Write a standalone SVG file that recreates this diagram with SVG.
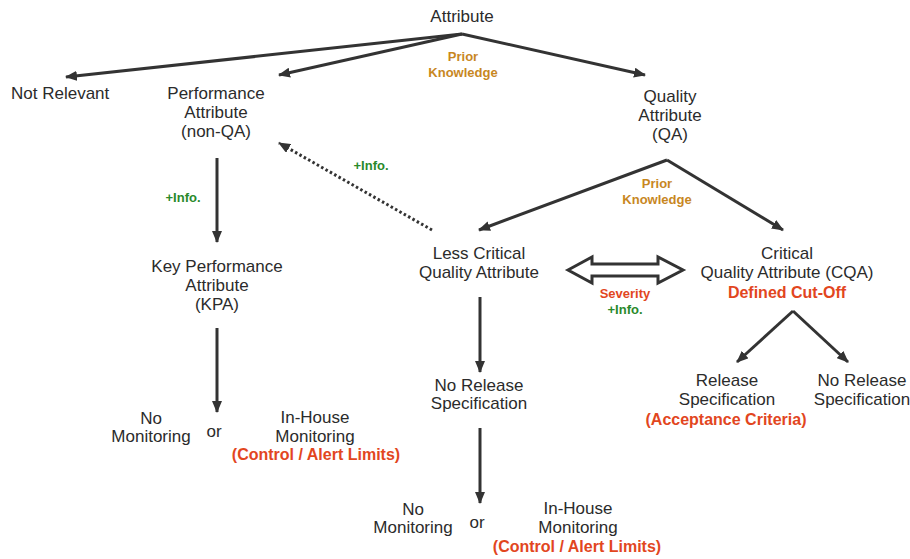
<svg xmlns="http://www.w3.org/2000/svg" width="910" height="559" viewBox="0 0 910 559">
<defs>
<marker id="ah" viewBox="0 0 12 10" refX="11" refY="5" markerWidth="12" markerHeight="10" markerUnits="userSpaceOnUse" orient="auto">
<path d="M0,0 L12,5 L0,10 z" fill="#333"/>
</marker>
</defs>
<style>
.t{font-family:"Liberation Sans",Arial,sans-serif;font-size:17px;fill:#2b2b2b;text-anchor:middle}
.l{font-family:"Liberation Sans",Arial,sans-serif;font-size:13px;font-weight:bold;text-anchor:middle}
.or{fill:#C8871F}
.gr{fill:#2A8A2A}
.rd{fill:#E2461E}
.t.rd{font-size:16px;font-weight:bold}
.c line{stroke:#333;stroke-width:3;marker-end:url(#ah)}
</style>
<rect width="910" height="559" fill="#fff"/>
<g class="c" id="connectors">
<line x1="462" y1="34" x2="66" y2="77"/>
<line x1="462" y1="34" x2="279" y2="75"/>
<line x1="462" y1="34" x2="645" y2="75"/>
<line x1="667" y1="160" x2="479" y2="230"/>
<line x1="667" y1="160" x2="783" y2="230"/>
<line x1="432" y1="230" x2="279" y2="143" stroke-dasharray="2.5 2.5"/>
<line x1="217" y1="158" x2="217" y2="242"/>
<line x1="217" y1="328" x2="217" y2="412"/>
<line x1="480" y1="297" x2="480" y2="372"/>
<line x1="480" y1="428" x2="480" y2="503"/>
<line x1="793" y1="311" x2="737" y2="362"/>
<line x1="793" y1="311" x2="848" y2="362"/>
<polygon points="568,270 592,257 592,264 658,264 658,257 683,270 658,283 658,276 592,276 592,283" fill="#fff" stroke="#333" stroke-width="3" stroke-linejoin="miter"/>
</g>
<g id="labels">
<text class="l or" x="463" y="61">Prior</text>
<text class="l or" x="463" y="77">Knowledge</text>
<text class="l or" x="657" y="188">Prior</text>
<text class="l or" x="657" y="204">Knowledge</text>
<text class="l gr" x="371" y="170">+Info.</text>
<text class="l gr" x="183" y="202">+Info.</text>
<text class="l rd" x="625" y="298">Severity</text>
<text class="l gr" x="625" y="314">+Info.</text>
</g>
<g id="attribute"><text class="t" x="462" y="22">Attribute</text></g>
<g id="not-relevant"><text class="t" x="11" y="99" style="text-anchor:start">Not Relevant</text></g>
<g id="performance"><text class="t" x="216" y="99">Performance</text><text class="t" x="216" y="118">Attribute</text><text class="t" x="216" y="137">(non-QA)</text></g>
<g id="quality"><text class="t" x="670" y="102">Quality</text><text class="t" x="670" y="121">Attribute</text><text class="t" x="670" y="140">(QA)</text></g>
<g id="kpa"><text class="t" x="217" y="272">Key Performance</text><text class="t" x="217" y="291">Attribute</text><text class="t" x="217" y="310">(KPA)</text></g>
<g id="kpa-no-mon"><text class="t" x="151" y="424">No</text><text class="t" x="151" y="442">Monitoring</text></g>
<g id="kpa-or"><text class="t" x="214" y="437">or</text></g>
<g id="kpa-inhouse"><text class="t" x="315" y="423">In-House</text><text class="t" x="315" y="442">Monitoring</text><text class="t rd" x="316" y="460">(Control / Alert Limits)</text></g>
<g id="less-critical"><text class="t" x="479" y="259">Less Critical</text><text class="t" x="479" y="278">Quality Attribute</text></g>
<g id="cqa"><text class="t" x="787" y="259">Critical</text><text class="t" x="787" y="278">Quality Attribute (CQA)</text><text class="t rd" x="787" y="298">Defined Cut-Off</text></g>
<g id="lc-no-release"><text class="t" x="479" y="391">No Release</text><text class="t" x="479" y="409">Specification</text></g>
<g id="lc-no-mon"><text class="t" x="413" y="515">No</text><text class="t" x="413" y="533">Monitoring</text></g>
<g id="lc-or"><text class="t" x="477" y="528">or</text></g>
<g id="lc-inhouse"><text class="t" x="578" y="514">In-House</text><text class="t" x="578" y="533">Monitoring</text><text class="t rd" x="577" y="552">(Control / Alert Limits)</text></g>
<g id="release-spec"><text class="t" x="727" y="386">Release</text><text class="t" x="727" y="405">Specification</text><text class="t rd" x="726" y="425">(Acceptance Criteria)</text></g>
<g id="cqa-no-release"><text class="t" x="862" y="386">No Release</text><text class="t" x="862" y="405">Specification</text></g>
</svg>
